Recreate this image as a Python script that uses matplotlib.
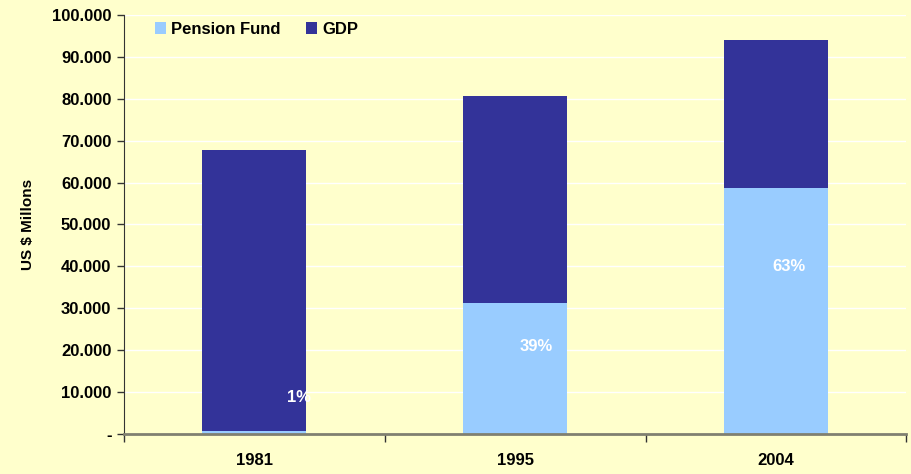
import numpy as np
import matplotlib.pyplot as plt
from matplotlib.ticker import FuncFormatter

# data
years = ['1981', '1995', '2004']
gdp = [67800, 80700, 94000]
pension = [700, 31300, 58700]
share_labels = ['1%', '39%', '63%']
label_y = [8600, 21000, 40000]
label_dx = [0.17, 0.08, 0.05]

plt.rcParams['font.family'] = ['Liberation Sans', 'DejaVu Sans']
plt.rcParams['font.weight'] = 'bold'

bg = '#FFFFCC'
fig = plt.figure(figsize=(9.11, 4.74), dpi=100, facecolor=bg)
ax = fig.add_axes([0.136, 0.0844, 0.859, 0.884], facecolor=bg)

x = np.arange(len(years))
w = 0.4
# GDP drawn full height, pension fund in front of it
ax.bar(x, gdp, width=w, color='#333399', label='GDP', zorder=2)
ax.bar(x, pension, width=w, color='#99CCFF', label='Pension Fund', zorder=3)

for i, t in enumerate(share_labels):
    ax.text(x[i] + label_dx[i], label_y[i], t, color='white', fontsize=12,
            fontweight='bold', ha='center', va='center', zorder=4)

ax.set_xlim(-0.5, 2.5)
ax.set_ylim(0, 100000)
ax.set_yticks(np.arange(0, 100001, 10000))
ax.yaxis.set_major_formatter(FuncFormatter(
    lambda v, p: '-' if v == 0 else f'{int(v):,}'.replace(',', '.')))
ax.tick_params(axis='y', labelsize=12, length=5, width=1, color='#333333', pad=4)

ax.set_xticks(x)
ax.set_xticklabels(years, fontsize=12)
ax.set_xticks([-0.5, 0.5, 1.5, 2.5], minor=True)
ax.tick_params(axis='x', which='major', length=0, pad=14)
ax.tick_params(axis='x', which='minor', length=6, width=1, color='#333333')

ax.grid(axis='y', color='white', linewidth=1, zorder=0)
ax.set_axisbelow(True)
for s in ['top', 'right']:
    ax.spines[s].set_visible(False)
ax.spines['left'].set_color('#333333')
ax.spines['bottom'].set_color('#808070')
ax.spines['bottom'].set_linewidth(2)
ax.spines['bottom'].set_zorder(5)

ax.set_ylabel('US $ Millons', fontsize=11, fontweight='bold', labelpad=12)

h, l = ax.get_legend_handles_labels()
ax.legend(h[::-1], l[::-1], loc='upper left', bbox_to_anchor=(0.02, 1.02), ncol=2,
          frameon=False, fontsize=12, handlelength=0.7, handleheight=0.7,
          handletextpad=0.3, columnspacing=1.5)

plt.savefig('out.png', dpi=100, facecolor=bg)
